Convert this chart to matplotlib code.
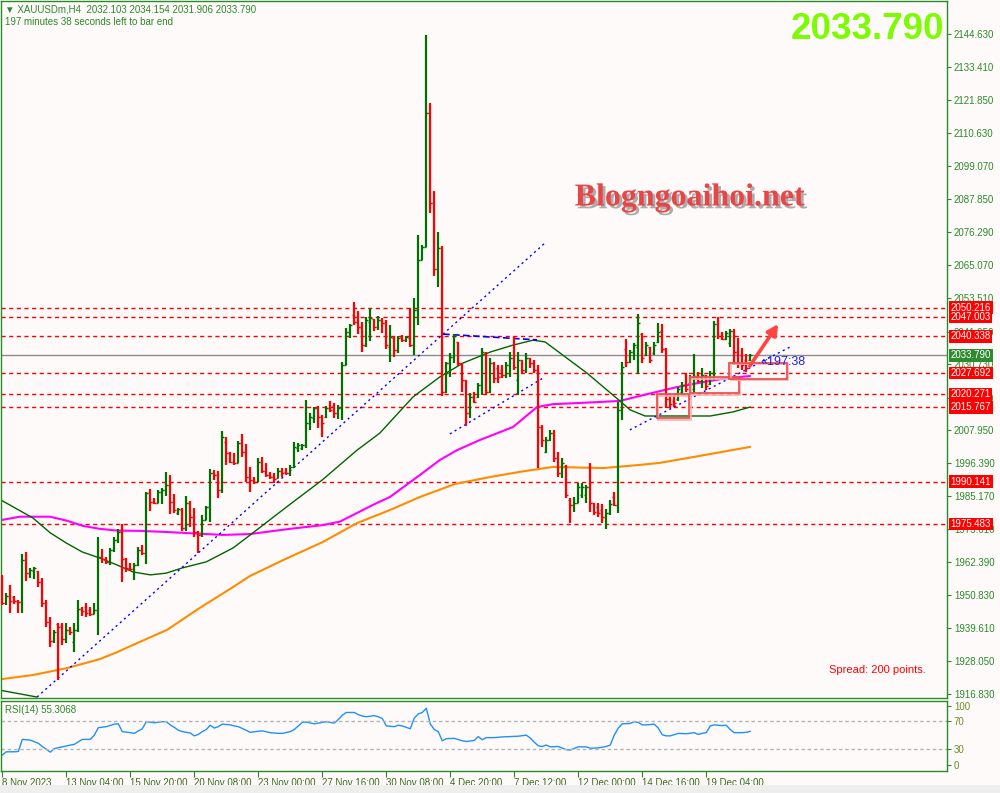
import matplotlib
matplotlib.use("Agg")
import matplotlib.pyplot as plt
import matplotlib.patheffects as pe
from matplotlib.patches import Rectangle, FancyArrowPatch
from matplotlib.transforms import blended_transform_factory
import numpy as np

plt.rcParams['font.family'] = ['Liberation Sans', 'DejaVu Sans']

# ---- H4 bars, XAUUSDm (bar 0 = 8 Nov 2023 12:00) ----
opens = [
    1955.0, 1948.1, 1950.7, 1950.4, 1949.0, 1948.6, 1963.0, 1958.7, 1959.4, 1959.4,
    1955.4, 1948.1, 1941.7, 1935.2, 1940.9, 1940.2, 1935.6, 1938.9, 1934.8, 1938.9,
    1946.0, 1946.9, 1945.8, 1944.4, 1945.8, 1964.2, 1963.3, 1962.5, 1966.5, 1969.9,
    1972.8, 1963.3, 1960.2, 1959.8, 1961.3, 1966.5, 1965.6, 1986.3, 1983.2, 1982.9,
    1986.7, 1987.2, 1989.0, 1983.2, 1979.2, 1980.3, 1974.0, 1982.6, 1978.0, 1972.8,
    1971.7, 1976.9, 1981.2, 1993.0, 1992.4, 1987.2, 2003.9, 1999.9, 1997.0, 1996.6,
    2003.4, 2000.5, 1991.8, 1990.7, 1990.1, 1997.0, 1993.9, 1992.4, 1991.8, 1991.3,
    1993.9, 1993.6, 1993.0, 1995.1, 2001.6, 2001.6, 2002.8, 2010.3, 2012.0, 2015.5,
    2012.6, 2012.6, 2015.5, 2016.3, 2013.7, 2015.5, 2030.4, 2041.9, 2047.7, 2045.4,
    2043.7, 2037.3, 2045.4, 2046.2, 2043.7, 2046.0, 2044.8, 2036.8, 2039.6, 2035.6,
    2040.2, 2039.1, 2039.6, 2037.3, 2049.4, 2066.7, 2071.3, 2117.4, 2086.3, 2063.5,
    2070.7, 2021.2, 2031.0, 2033.3, 2038.5, 2031.0, 2025.2, 2013.7, 2019.5, 2019.5,
    2023.5, 2034.5, 2021.2, 2031.0, 2029.3, 2028.7, 2027.0, 2030.4, 2032.7, 2025.2,
    2032.1, 2028.7, 2032.7, 2031.0, 2028.7, 2009.0, 2000.5, 2004.5, 2006.8, 1998.2,
    1993.0, 1995.5, 1983.8, 1982.1, 1982.9, 1985.5, 1985.5, 1988.4, 1982.6, 1981.5,
    1980.3, 1978.0, 1979.2, 1984.9, 1982.1, 2014.9, 2036.0, 2031.5, 2035.0, 2036.5,
    2041.0, 2033.9, 2036.5, 2034.5, 2038.3, 2042.0, 2036.0, 2018.5, 2018.0, 2018.5,
    2021.0, 2023.5, 2024.3, 2022.0, 2026.5, 2025.0, 2026.5, 2024.0, 2027.5, 2044.5,
    2040.5, 2039.5, 2038.0, 2042.0, 2035.0, 2034.0, 2032.0, 2032.103,
]
highs = [
    1957.9, 1951.5, 1954.4, 1950.7, 1949.2, 1965.0, 1965.9, 1960.2, 1960.7, 1959.4,
    1956.9, 1949.2, 1943.5, 1938.9, 1941.4, 1941.2, 1941.4, 1940.0, 1941.2, 1949.2,
    1946.9, 1948.3, 1946.9, 1948.1, 1970.9, 1966.7, 1964.0, 1967.1, 1970.9, 1973.8,
    1975.5, 1963.6, 1961.9, 1961.9, 1967.7, 1968.2, 1986.7, 1987.5, 1984.4, 1987.2,
    1987.8, 1993.6, 1992.4, 1985.9, 1980.9, 1980.9, 1985.3, 1983.5, 1980.9, 1973.2,
    1978.6, 1981.7, 1994.5, 1994.1, 1993.9, 2007.7, 2005.7, 2000.5, 1999.9, 2004.2,
    2006.5, 2003.1, 1995.3, 1991.8, 1998.4, 1998.5, 1996.7, 1993.6, 1993.0, 1994.7,
    1994.7, 1994.7, 1995.9, 2003.9, 2003.4, 2003.1, 2018.3, 2013.7, 2016.0, 2016.3,
    2013.2, 2016.3, 2018.0, 2017.2, 2016.6, 2031.6, 2043.1, 2044.6, 2052.3, 2049.2,
    2045.4, 2047.1, 2050.0, 2046.2, 2047.4, 2046.6, 2046.0, 2044.2, 2040.2, 2040.4,
    2040.8, 2040.4, 2050.0, 2053.5, 2075.3, 2071.9, 2144.4, 2120.8, 2090.5, 2076.5,
    2071.5, 2031.6, 2034.5, 2041.1, 2038.5, 2031.0, 2025.2, 2020.6, 2021.2, 2024.1,
    2036.2, 2035.0, 2032.7, 2031.6, 2030.4, 2030.4, 2031.6, 2035.0, 2040.4, 2035.0,
    2032.1, 2034.5, 2032.7, 2032.1, 2030.4, 2009.7, 2005.7, 2008.0, 2008.0, 2000.5,
    1998.2, 1995.9, 1984.4, 1984.9, 1989.5, 1989.5, 1989.0, 1996.7, 1982.6, 1982.6,
    1982.4, 1980.6, 1983.8, 1986.7, 2017.8, 2031.6, 2039.3, 2035.6, 2037.9, 2048.0,
    2041.6, 2038.5, 2036.8, 2038.5, 2044.8, 2044.6, 2036.2, 2020.1, 2020.1, 2022.7,
    2024.7, 2027.5, 2027.0, 2034.2, 2028.1, 2029.3, 2027.0, 2028.5, 2045.7, 2046.9,
    2041.9, 2042.3, 2042.8, 2042.8, 2039.6, 2036.2, 2034.2, 2034.154,
]
lows = [
    1947.5, 1947.5, 1944.6, 1947.8, 1944.6, 1944.6, 1955.9, 1956.7, 1956.4, 1953.8,
    1946.9, 1939.8, 1932.9, 1934.3, 1921.4, 1933.7, 1934.3, 1937.1, 1931.4, 1938.3,
    1943.7, 1943.5, 1943.7, 1944.4, 1937.1, 1961.9, 1961.7, 1961.3, 1965.9, 1969.0,
    1955.3, 1959.0, 1959.4, 1956.1, 1961.0, 1964.9, 1961.7, 1980.0, 1982.4, 1982.9,
    1982.4, 1985.2, 1978.9, 1979.2, 1978.6, 1973.2, 1973.2, 1974.6, 1971.1, 1965.4,
    1971.1, 1976.9, 1976.3, 1990.7, 1984.4, 1986.1, 1995.9, 1996.4, 1995.9, 1996.4,
    1998.7, 1990.1, 1986.7, 1989.3, 1990.1, 1993.2, 1991.6, 1990.9, 1989.8, 1991.3,
    1991.8, 1992.8, 1992.1, 1994.7, 2000.5, 2001.1, 2001.6, 2008.0, 2010.3, 2008.5,
    2005.7, 2012.0, 2014.3, 2012.0, 2011.8, 2011.4, 2030.4, 2039.6, 2044.2, 2041.1,
    2035.0, 2036.8, 2038.8, 2042.3, 2042.5, 2041.4, 2035.8, 2031.3, 2033.3, 2034.7,
    2038.5, 2038.5, 2036.8, 2033.9, 2044.2, 2066.7, 2071.3, 2083.1, 2061.3, 2057.5,
    2019.8, 2020.6, 2026.4, 2031.0, 2030.2, 2021.2, 2009.5, 2012.0, 2017.2, 2018.9,
    2020.0, 2020.0, 2020.6, 2024.1, 2024.1, 2025.8, 2025.8, 2026.4, 2028.7, 2020.0,
    2027.5, 2027.5, 2029.3, 2027.5, 1994.7, 2002.2, 1999.9, 2004.3, 1997.0, 1991.8,
    1991.3, 1984.4, 1975.7, 1979.7, 1982.6, 1984.4, 1982.6, 1979.7, 1978.6, 1978.0,
    1975.7, 1973.6, 1978.6, 1981.7, 1979.2, 2011.4, 2029.9, 2031.0, 2032.2, 2027.3,
    2031.2, 2033.5, 2031.0, 2033.9, 2038.1, 2034.5, 2015.5, 2015.5, 2016.0, 2018.1,
    2020.1, 2021.2, 2024.1, 2020.6, 2024.1, 2022.4, 2021.8, 2023.5, 2025.2, 2039.3,
    2039.1, 2039.1, 2036.8, 2030.4, 2029.3, 2028.7, 2028.1, 2031.906,
]
closes = [
    1948.1, 1950.7, 1949.0, 1949.0, 1948.6, 1963.0, 1958.7, 1959.6, 1960.2, 1955.4,
    1948.1, 1941.7, 1935.2, 1938.3, 1940.0, 1935.6, 1938.9, 1938.3, 1938.9, 1946.0,
    1945.5, 1944.6, 1944.4, 1945.8, 1964.2, 1963.3, 1962.5, 1966.5, 1969.9, 1972.8,
    1963.3, 1960.2, 1959.8, 1961.3, 1966.5, 1965.6, 1986.3, 1983.2, 1982.9, 1986.7,
    1987.2, 1989.0, 1983.2, 1980.3, 1980.6, 1974.0, 1982.6, 1978.0, 1972.8, 1971.7,
    1976.9, 1981.2, 1993.0, 1992.4, 1987.2, 2005.7, 1999.9, 1997.0, 1996.4, 2003.4,
    2000.5, 1991.8, 1990.7, 1990.1, 1997.0, 1993.9, 1992.4, 1991.6, 1990.9, 1993.9,
    1993.0, 1993.2, 1995.1, 2002.2, 2002.8, 2002.8, 2010.3, 2012.6, 2015.5, 2012.6,
    2010.3, 2015.5, 2014.9, 2013.7, 2015.5, 2030.4, 2041.9, 2044.2, 2045.4, 2043.7,
    2037.3, 2046.0, 2046.6, 2043.7, 2046.0, 2044.8, 2037.3, 2040.2, 2035.6, 2039.6,
    2039.1, 2040.2, 2037.3, 2049.4, 2066.7, 2071.3, 2117.4, 2086.3, 2063.5, 2070.7,
    2021.2, 2031.0, 2033.3, 2040.4, 2031.0, 2025.2, 2013.7, 2019.5, 2017.7, 2023.5,
    2035.0, 2021.2, 2031.0, 2025.8, 2026.4, 2027.0, 2030.4, 2032.7, 2029.8, 2032.1,
    2028.7, 2032.7, 2031.0, 2028.7, 2009.0, 2004.5, 2004.5, 2006.8, 1998.2, 1993.0,
    1996.4, 1985.5, 1982.1, 1982.9, 1988.4, 1988.4, 1988.4, 1982.6, 1979.7, 1979.2,
    1978.0, 1979.2, 1982.4, 1982.1, 2014.9, 2029.9, 2031.5, 2035.0, 2037.5, 2045.0,
    2033.0, 2037.3, 2032.0, 2037.5, 2041.9, 2036.0, 2018.5, 2017.0, 2017.2, 2022.0,
    2023.5, 2022.0, 2026.0, 2026.5, 2025.0, 2027.0, 2023.0, 2027.5, 2044.5, 2040.5,
    2039.5, 2041.5, 2042.0, 2035.0, 2031.0, 2030.5, 2029.5, 2033.790,
]

# moving averages (bar index, price)
ma_green_x = [0, 7.7, 12, 16, 20, 24.4, 28.7, 32.7, 37, 41, 45, 51, 57.7, 62, 71, 80, 88.7,
              94.4, 102.7, 109.4, 115.2, 122, 127.7, 132.7, 135.7, 139.4, 146.2, 152.7, 157,
              160.7, 172, 177, 182.7, 187]
ma_green_y = [1983.5, 1977.5, 1972.4, 1968.9, 1965.8, 1963.7, 1961.3, 1958.9, 1957.9, 1958.5,
              1960.3, 1962.4, 1967.2, 1971.7, 1981.3, 1990.7, 2001.0, 2006.9, 2019.4, 2026.3,
              2031.1, 2034.9, 2037.3, 2039.0, 2038.4, 2034.6, 2027.6, 2020.0, 2014.9, 2012.8,
              2012.8, 2012.8, 2014.2, 2015.9]
ma_magenta_x = [0, 4.4, 11.9, 16.2, 20.2, 24.4, 28.7, 34.4, 41.2, 46.9, 55.2, 61.9, 71.9, 80.2,
                84.4, 88.7, 92.7, 96.9, 104.4, 109.4, 113.7, 119.4, 127.7, 133.7, 137.7, 144.4,
                154.4, 160.2, 168.7, 175.2, 181.2, 186.9]
ma_magenta_y = [1976.9, 1978.0, 1978.0, 1976.6, 1974.8, 1973.8, 1973.2, 1973.1, 1972.7, 1972.3,
                1971.7, 1972.0, 1973.8, 1975.1, 1976.3, 1979.3, 1982.1, 1984.8, 1992.4, 1997.6,
                2001.0, 2004.5, 2009.0, 2015.9, 2016.9, 2017.3, 2018.0, 2020.0, 2022.8, 2024.5,
                2025.9, 2026.6]
ma_orange_x = [0, 7.7, 16.2, 24.4, 28.7, 32.7, 41.2, 49.4, 57.7, 61.9, 70.2, 80.2, 88.7, 96.9,
               104.4, 113.2, 121.9, 129.4, 137.7, 150.2, 159.4, 164.4, 172.7, 181.2, 186.9]
ma_orange_y = [1921.9, 1923.3, 1925.7, 1928.8, 1931.2, 1933.7, 1938.9, 1946.5, 1953.7, 1957.5,
               1963.0, 1969.3, 1975.8, 1980.3, 1984.8, 1989.3, 1991.7, 1993.5, 1995.2, 1994.8,
               1995.9, 1996.6, 1998.6, 2000.7, 2002.1]
low_line_x = [0, 8.6]
low_line_y = [1917.9, 1915.7]

# RSI(14)
rsi_x = [0, 1, 3, 4, 5, 7, 9, 10, 12, 13, 15, 17, 18, 20, 22, 23, 24, 26, 28, 29, 30, 32, 33,
         34, 35, 36, 38, 40, 41, 42, 43, 44, 45, 47, 48, 49, 50, 51, 52, 53, 54, 55, 57, 58,
         59, 60, 62, 64, 65, 67, 69, 70, 72, 73, 75, 76, 78, 79, 80, 81, 83, 84, 85, 86, 88,
         89, 90, 91, 93, 94, 95, 96, 98, 99, 100, 101, 102, 103, 104, 105, 106, 107, 108, 109,
         110, 111, 113, 115, 116, 118, 119, 120, 121, 123, 125, 127, 129, 131, 132, 133, 134,
         135, 136, 137, 139, 141, 142, 144, 146, 147, 149, 151, 152, 153, 154, 155, 157, 158,
         159, 160, 161, 163, 164, 165, 166, 167, 169, 171, 173, 174, 175, 176, 177, 178, 180,
         181, 182, 183, 185, 186, 187]
rsi_v = [22, 26.5, 26.5, 27, 44, 43, 38.5, 34, 26, 31, 33.5, 36, 37, 44, 44, 50, 60.5, 62,
         65.5, 66, 55, 53.5, 52.5, 56, 59, 69, 67.5, 69, 69, 64.5, 61, 57, 55, 53, 49, 51, 55,
         58, 64, 60, 62, 65.5, 64.5, 63, 62, 59.5, 54, 55.5, 56, 53.5, 52.5, 52.5, 55, 58, 68,
         68.5, 66, 67, 68, 69, 67, 72, 78, 82, 82, 79, 77, 76, 77.5, 76, 73.5, 63, 62, 64, 63,
         61, 59, 74, 80, 82, 88, 66, 58, 55, 42, 45, 45.5, 42, 41, 42.5, 48, 43.5, 46.5, 46.5,
         47.5, 48, 48.5, 50, 46, 40, 35, 34, 36, 33.5, 34, 29.5, 29, 33.5, 33.5, 31.5, 32, 34,
         36, 50, 60, 66, 66.5, 69, 68, 64.5, 64.5, 65.5, 60, 50.5, 49, 49, 52.5, 52, 53.5, 51,
         52.5, 53.5, 63, 64.5, 63.5, 64, 58, 53.5, 53.5, 54, 55.3]

level_prices = [2050.216, 2047.003, 2040.338, 2027.692, 2020.271, 2015.767, 1990.141, 1975.483]
last_price = 2033.790
price_ticks = [2144.630, 2133.410, 2121.850, 2110.630, 2099.070, 2087.850, 2076.290, 2065.070,
               2053.510, 2041.950, 2030.730, 2019.170, 2007.950, 1996.390, 1985.170, 1973.610,
               1962.390, 1950.830, 1939.610, 1928.050, 1916.830]
time_ticks = [0, 16, 32, 48, 64, 80, 96, 112, 128, 144, 160, 176]
time_labels = ["8 Nov 2023", "13 Nov 04:00", "15 Nov 20:00", "20 Nov 08:00", "23 Nov 00:00",
               "27 Nov 16:00", "30 Nov 08:00", "4 Dec 20:00", "7 Dec 12:00", "12 Dec 00:00",
               "14 Dec 16:00", "19 Dec 04:00"]

# drawn objects: trendlines (bar, price) and boxes
trend_lines = [((8.7, 1915.7), (135.7, 2072.6)),
               ((111.9, 2006.6), (135.2, 2025.9)),
               ((156.9, 2008.0), (196.9, 2036.6))]
top_dash_line = ((110.2, 2041.1), (133.7, 2039.1))
boxes = [(163.6, 2012.0, 171.75, 2020.3),
         (171.9, 2020.6, 184.2, 2026.2),
         (181.75, 2025.7, 196.1, 2031.2)]
arrow_from = (186.5, 2029.3)
arrow_to = (194.4, 2045.4)

BG = '#fffafa'
FG = '#2a8a2a'
UP = '#007000'
DN = '#ff0000'

W, H = 1000, 793
fig = plt.figure(figsize=(W / 100, H / 100), dpi=100, facecolor=BG)
ax = fig.add_axes([1 / W, 1 - 698 / H, 946 / W, 697 / H], facecolor=BG)
axr = fig.add_axes([1 / W, 1 - 771 / H, 946 / W, 70 / H], facecolor=BG)
fig.patches.append(Rectangle((0, 0), 1, 8 / H, transform=fig.transFigure,
                             facecolor='#eeeeee', edgecolor='none'))

xmin, xmax = -0.33, 236.2
idx = np.arange(len(closes))
o = np.array(opens); h = np.array(highs); l = np.array(lows); c = np.array(closes)
cols = np.where(c >= o, UP, DN)

# levels and current price
for p in level_prices:
    ax.axhline(p, color=DN, lw=1, ls=(0, (3, 2.5)), zorder=1)
ax.axhline(last_price, color='#8c8c8c', lw=1, zorder=1)

# moving averages
ax.plot(ma_orange_x, ma_orange_y, color='#ff8c00', lw=1.5, zorder=2)
ax.plot(ma_magenta_x, ma_magenta_y, color='#ff00ff', lw=1.5, zorder=2)
ax.plot(ma_green_x, ma_green_y, color='#006400', lw=1, zorder=2)
ax.plot(low_line_x, low_line_y, color='#006400', lw=1, zorder=2)

# trendlines
for (x0, y0), (x1, y1) in trend_lines:
    ax.plot([x0, x1], [y0, y1], color='#0000ff', lw=1, ls=(0, (1.5, 2.5)), zorder=2)
ax.plot([top_dash_line[0][0], top_dash_line[1][0]], [top_dash_line[0][1], top_dash_line[1][1]],
        color='#0000ff', lw=1.2, ls=(0, (4, 2)), zorder=2)

# OHLC bars
ax.vlines(idx, l, h, colors=cols, lw=1.6, zorder=3)
ax.hlines(o, idx - 0.5, idx, colors=cols, lw=1, zorder=3)
ax.hlines(c, idx, idx + 0.5, colors=cols, lw=1, zorder=3)

# boxes (outline plus a faint offset shadow line) and arrow
for x0, y0, x1, y1 in boxes:
    ax.add_patch(Rectangle((x0 + 0.35, y0 - 0.45), x1 - x0, y1 - y0, fill=False,
                           edgecolor='#f0b4b4', lw=1.2, zorder=4))
    ax.add_patch(Rectangle((x0, y0), x1 - x0, y1 - y0, fill=False, edgecolor='#f05050',
                           lw=1.3, zorder=4))
arr = FancyArrowPatch(arrow_from, arrow_to, arrowstyle='-|>', mutation_scale=16,
                      color='#ff4444', lw=2.6, zorder=5)
arr.set_path_effects([pe.SimplePatchShadow(offset=(1.5, -1.5), alpha=0.25), pe.Normal()])
ax.add_patch(arr)
ax.text(189.5, 2031.3, '\u00ab197:38', color='#2020ff', fontsize=9, va='center', ha='left',
        zorder=5)

ax.set_xlim(xmin, xmax)
ax.set_ylim(1915.35, 2156.2)
ax.set_xticks([])
ax.yaxis.tick_right()
ax.set_yticks(price_ticks)
ax.set_yticklabels([f"{v:.3f}" for v in price_ticks])
ax.tick_params(axis='y', colors=FG, labelcolor=FG, labelsize=7, length=3, pad=2, direction='out')
for s in ax.spines.values():
    s.set_color(FG)
    s.set_linewidth(1)

# price labels on the axis
tr = blended_transform_factory(ax.transAxes, ax.transData)
for p in level_prices:
    ax.text(1.004, p, f"{p:.3f}", transform=tr, color='white', fontsize=7, va='center',
            ha='left', clip_on=False, zorder=10,
            bbox=dict(facecolor='#ff0000', edgecolor='none', pad=1.0))
ax.text(1.004, last_price, f"{last_price:.3f}", transform=tr, color='white', fontsize=7,
        va='center', ha='left', clip_on=False, zorder=11,
        bbox=dict(facecolor='#2e8b2e', edgecolor='none', pad=1.0))

# RSI panel
axr.plot(rsi_x, rsi_v, color='#1e90ff', lw=1)
for lv in (70, 30):
    axr.axhline(lv, color='#b4b4b4', lw=1, ls=(0, (2.5, 2)))
axr.set_xlim(xmin, xmax)
axr.set_ylim(-0.6, 98.2)
axr.yaxis.tick_right()
axr.set_yticks([7.9, 30, 70, 91.6])
axr.set_yticklabels(['0', '30', '70', '100'])
axr.tick_params(axis='y', colors=FG, labelcolor='#6b8e23', labelsize=7, length=3, pad=2)
axr.set_xticks(time_ticks)
axr.set_xticklabels(time_labels, ha='left')
axr.tick_params(axis='x', colors=FG, labelcolor='#3a6a1a', labelsize=7, length=4, pad=1)
for s in axr.spines.values():
    s.set_color(FG)
    s.set_linewidth(1)
axr.text(4 / 946, 0.87, 'RSI(14) 55.3068', transform=axr.transAxes, color=FG, fontsize=7,
         va='center', ha='left')

# header and overlays
fig.text(5 / W, 1 - 9 / H, '\u25bc XAUUSDm,H4  2032.103 2034.154 2031.906 2033.790',
         color=FG, fontsize=7, va='center', ha='left', family=['Liberation Sans', 'DejaVu Sans'])
fig.text(5 / W, 1 - 22 / H, '197 minutes 38 seconds left to bar end', color=FG, fontsize=7,
         va='center', ha='left')
fig.text(944 / W, 1 - 39 / H, '2033.790', color='#7cfc00', fontsize=26.5, fontweight='bold',
         ha='right', va='baseline')
fig.text(690 / W, 1 - 198 / H, 'Blogngoaihoi.net', color='#e84646', fontsize=23,
         fontweight='bold', family='Liberation Serif', ha='center', va='center',
         path_effects=[pe.withSimplePatchShadow(offset=(2, -2), shadow_rgbFace='#777777',
                                                alpha=0.6)])
fig.text(926 / W, 1 - 670 / H, 'Spread: 200 points.', color='#ff0000', fontsize=8,
         ha='right', va='center')

fig.savefig('out.png', dpi=100, facecolor=BG)
